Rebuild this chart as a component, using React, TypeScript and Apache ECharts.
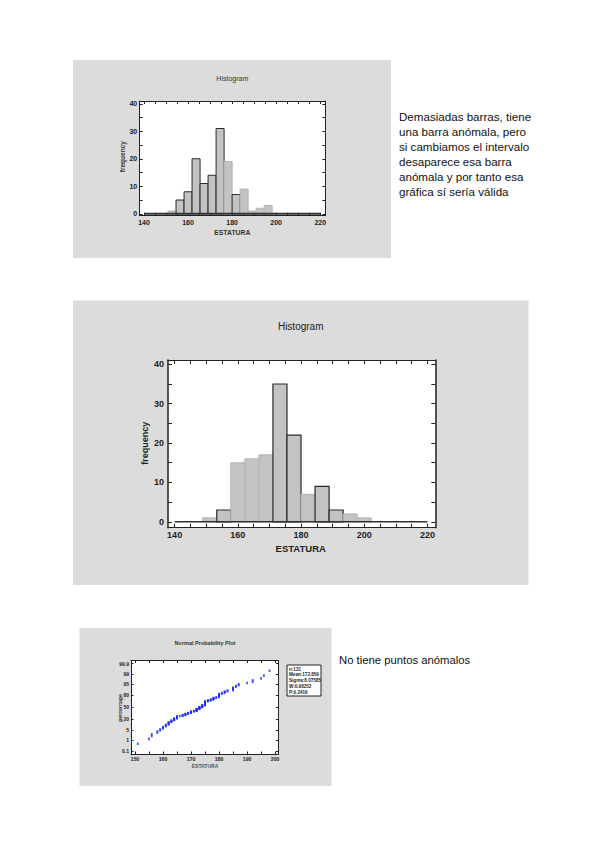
import React, { useEffect, useRef } from "react";
import * as echarts from "echarts";

// ---------- data ----------
const histStart = 140;
const histEnd = 220;
const hist1Counts = [0, 0, 0, 1, 5, 8, 20, 11, 14, 31, 19, 7, 9, 1, 2, 3, 0, 0, 0, 0, 0, 0];
const hist2Counts = [0, 0, 1, 3, 15, 16, 17, 35, 22, 7, 9, 3, 2, 1, 0, 0, 0, 0];
const histXLabels = [140, 160, 180, 200, 220];
const histXTicks = [140, 145, 150, 155, 160, 165, 170, 175, 180, 185, 190, 195, 200, 205, 210, 215, 220];
const histYLabels = [0, 10, 20, 30, 40];
const histYTicks = [0, 5, 10, 15, 20, 25, 30, 35, 40];
const probXLabels = [150, 160, 170, 180, 190, 200];
const probXTicks = [150, 155, 160, 165, 170, 175, 180, 185, 190, 195, 200];
const probPercents = [0.1, 1, 5, 20, 50, 80, 95, 99, 99.9];
const estatura = [
  151,
  155, 156, 156,
  158, 158, 159, 159, 160, 160, 160, 161, 161, 161,
  162, 162, 162, 162, 162,
  163, 163, 163, 163,
  164, 164, 164, 164, 164,
  165, 165, 165, 165, 165, 165,
  166,
  167, 167, 167,
  168, 168, 168, 168,
  169, 169, 169,
  170, 170, 170, 170, 170,
  171, 171,
  172, 172, 172, 172, 172, 172, 172,
  173, 173, 173, 173, 173, 173, 173,
  174, 174, 174, 174, 174, 174, 174,
  175, 175, 175, 175, 175, 175, 175, 175, 175, 175, 175, 175, 175, 175,
  176, 176, 176,
  177, 177, 177,
  178, 178, 178, 178, 178,
  179, 179,
  180, 180, 180, 180, 180, 180, 180, 180, 180,
  181, 181,
  182, 182, 182,
  183, 183,
  185, 185, 185, 185, 185,
  186, 186,
  187, 187,
  190,
  192, 192,
  195, 196,
  198,
];
const statsLines = ["n:131", "Mean:172.859", "Sigma:8.07585", "W:0.98252", "P:0.2416"];
const note1Lines = [
  "Demasiadas barras, tiene",
  "una barra anómala, pero",
  "si cambiamos el intervalo",
  "desaparece esa barra",
  "anómala y por tanto esa",
  "gráfica sí sería válida",
];
const note3 = "No tiene puntos anómalos";
const hist1Outlined = [4, 5, 6, 7, 8, 9, 11];
const hist2Outlined = [3, 7, 8, 10, 11];

// ---------- helpers ----------
const FONT = "'Liberation Sans', Arial, Helvetica, sans-serif";
const AX = "#222";

function probit(p: number): number {
  const a = [-3.969683028665376e1, 2.209460984245205e2, -2.759285104469687e2, 1.38357751867269e2, -3.066479806614716e1, 2.506628277459239];
  const b = [-5.447609879822406e1, 1.615858368580409e2, -1.556989798598866e2, 6.680131188771972e1, -1.328068155288572e1];
  const c = [-7.784894002430293e-3, -3.223964580411365e-1, -2.400758277161838, -2.549732539343734, 4.374664141464968, 2.938163982698783];
  const d = [7.784695709041462e-3, 3.224671290700398e-1, 2.445134137142996, 3.754408661907416];
  const plow = 0.02425;
  if (p < plow) {
    const q = Math.sqrt(-2 * Math.log(p));
    return (((((c[0] * q + c[1]) * q + c[2]) * q + c[3]) * q + c[4]) * q + c[5]) / ((((d[0] * q + d[1]) * q + d[2]) * q + d[3]) * q + 1);
  }
  if (p > 1 - plow) {
    const q = Math.sqrt(-2 * Math.log(1 - p));
    return -(((((c[0] * q + c[1]) * q + c[2]) * q + c[3]) * q + c[4]) * q + c[5]) / ((((d[0] * q + d[1]) * q + d[2]) * q + d[3]) * q + 1);
  }
  const q = p - 0.5;
  const r = q * q;
  return ((((((a[0] * r + a[1]) * r + a[2]) * r + a[3]) * r + a[4]) * r + a[5]) * q) / (((((b[0] * r + b[1]) * r + b[2]) * r + b[3]) * r + b[4]) * r + 1);
}

function mkX(grid: number, min: number, max: number, labels: number[], ticks: number[], fs: number, margin: number, tickLen: number, lw: number) {
  const base = {
    type: "value",
    gridIndex: grid,
    min,
    max,
    splitLine: { show: false },
    axisLine: { show: true, onZero: false, lineStyle: { color: AX, width: lw } },
  };
  return [
    {
      ...base,
      position: "bottom",
      axisTick: { show: true, inside: true, length: tickLen, customValues: ticks, lineStyle: { color: AX, width: 1 } },
      axisLabel: { show: true, customValues: labels, fontSize: fs, fontWeight: "bold", color: AX, margin, fontFamily: FONT },
    },
    {
      ...base,
      position: "top",
      axisTick: { show: true, inside: true, length: tickLen, customValues: ticks, lineStyle: { color: AX, width: 1 } },
      axisLabel: { show: false },
    },
  ];
}

function mkY(grid: number, min: number, max: number, labels: number[], ticks: number[], fs: number, margin: number, tickLen: number, lw: number, fmt?: (v: number) => string) {
  const base = {
    type: "value",
    gridIndex: grid,
    min,
    max,
    splitLine: { show: false },
    axisLine: { show: true, onZero: false, lineStyle: { color: AX, width: lw } },
  };
  return [
    {
      ...base,
      position: "left",
      axisTick: { show: true, inside: true, length: tickLen, customValues: ticks, lineStyle: { color: AX, width: 1 } },
      axisLabel: { show: true, customValues: labels, fontSize: fs, fontWeight: "bold", color: AX, margin, fontFamily: FONT, formatter: fmt },
    },
    {
      ...base,
      position: "right",
      axisTick: { show: true, inside: true, length: tickLen, customValues: ticks, lineStyle: { color: AX, width: 1 } },
      axisLabel: { show: false },
    },
  ];
}

function histData(counts: number[]) {
  const w = (histEnd - histStart) / counts.length;
  return counts.map((c, k) => [histStart + k * w, histStart + (k + 1) * w, c]);
}

function histSeries(counts: number[], axisIdx: number, outlined: number[], lw: number, zeroW: number) {
  return [
    {
      type: "custom",
      xAxisIndex: axisIdx,
      yAxisIndex: axisIdx,
      data: histData(counts),
      encode: { x: [0, 1], y: 2 },
      renderItem: (params: any, api: any) => {
        const c = api.value(2);
        if (!c) return null;
        const p0 = api.coord([api.value(0), c]);
        const p1 = api.coord([api.value(1), 0]);
        const dark = outlined.indexOf(params.dataIndex) >= 0;
        return {
          type: "rect",
          shape: { x: p0[0], y: p0[1], width: p1[0] - p0[0], height: p1[1] - p0[1] },
          style: { fill: "#c3c3c3", stroke: dark ? "#2a2a2a" : "#b5b5b5", lineWidth: dark ? lw : 1 },
        };
      },
      z: 2,
    },
    {
      type: "line",
      xAxisIndex: axisIdx,
      yAxisIndex: axisIdx,
      data: [[histStart, 0], [histEnd, 0]],
      symbol: "none",
      lineStyle: { color: "#333", width: zeroW },
      z: 3,
    },
  ];
}

function txt(x: number, y: number, s: string, fs: number, bold: boolean, color = "#222", rot = 0, align = "center") {
  return {
    type: "text",
    x,
    y,
    rotation: rot,
    style: { text: s, fontSize: fs, fontWeight: bold ? "bold" : "normal", fill: color, fontFamily: FONT, align, verticalAlign: "middle" },
    z: 10,
  };
}

export default function App() {
  const ref = useRef<HTMLDivElement>(null);
  useEffect(() => {
    if (!ref.current) return;
    const chart = echarts.init(ref.current, undefined, { renderer: "svg" });

    const g1 = { left: 139.7, top: 101, width: 185.6, height: 114.7 };
    const g2 = { left: 168, top: 360, width: 267.3, height: 167.7 };
    const g3 = { left: 131, top: 660.5, width: 147.5, height: 93.5 };

    const zTicks = probPercents.map((p) => probit(p / 100));
    const zFmt = (v: number) => {
      let best = 0;
      zTicks.forEach((z, i) => {
        if (Math.abs(z - v) < Math.abs(zTicks[best] - v)) best = i;
      });
      return String(probPercents[best]);
    };
    const n = estatura.length;
    const probData = estatura
      .slice()
      .sort((a, b) => a - b)
      .map((v, i) => [v, probit((i + 1 - 0.375) / (n + 0.25))]);

    const graphic: any[] = [
      { type: "rect", shape: { x: 73, y: 60, width: 318, height: 198 }, style: { fill: "#dcdcdc" }, z: -10 },
      { type: "rect", shape: { x: 73, y: 300.5, width: 455.5, height: 284.5 }, style: { fill: "#dcdcdc" }, z: -10 },
      { type: "rect", shape: { x: 79.5, y: 628, width: 252, height: 158 }, style: { fill: "#dcdcdc" }, z: -10 },
      { type: "rect", shape: { x: g1.left, y: g1.top, width: g1.width, height: g1.height }, style: { fill: "#fff" }, z: -9 },
      { type: "rect", shape: { x: g2.left, y: g2.top, width: g2.width, height: g2.height }, style: { fill: "#fff" }, z: -9 },
      { type: "rect", shape: { x: g3.left, y: g3.top, width: g3.width, height: g3.height }, style: { fill: "#fff" }, z: -9 },
      // chart 1 texts
      txt(232.3, 78.3, "Histogram", 7, false, "#333"),
      txt(232.3, 232.5, "ESTATURA", 6.8, true, "#333"),
      txt(122, 156.7, "frequency", 6.5, true, "#333", Math.PI / 2),
      // chart 2 texts
      txt(300.7, 326.7, "Histogram", 10, false, "#222"),
      txt(300.7, 548.3, "ESTATURA", 9.5, true, "#222"),
      txt(144.7, 443.3, "frequency", 9, true, "#222", Math.PI / 2),
      // chart 3 texts
      txt(205, 643, "Normal Probability Plot", 5.5, true, "#333"),
      txt(205, 765.5, "ESTATURA", 5, true, "#555"),
      txt(119.5, 708, "percentage", 5.2, true, "#333", Math.PI / 2),
      { type: "rect", shape: { x: 287, y: 665, width: 34, height: 31 }, style: { fill: "#fff", stroke: "#222", lineWidth: 1 }, z: 9 },
      ...statsLines.map((s, i) => txt(289, 669 + i * 5.8, s, 4.6, true, "#222", 0, "left")),
      // notes
      ...note1Lines.map((s, i) => txt(399, 116 + i * 15, s, 11.6, false, "#111", 0, "left")),
      txt(339, 660, note3, 11.3, false, "#111", 0, "left"),
    ];

    const option: any = {
      animation: false,
      backgroundColor: "#fff",
      grid: [
        { ...g1, containLabel: false },
        { ...g2, containLabel: false },
        { ...g3, containLabel: false },
      ],
      xAxis: [
        ...mkX(0, 138.05, 222.3, histXLabels, histXTicks, 7, 3.5, 3, 1),
        ...mkX(1, 137.9, 222.5, histXLabels, histXTicks, 9, 3, 4, 1.2),
        ...mkX(2, 148.6, 201.2, probXLabels, probXTicks, 5.2, 2.5, 2.5, 1),
      ],
      yAxis: [
        ...mkY(0, -0.7, 41, histYLabels, histYTicks, 7, 2.5, 3, 1),
        ...mkY(1, -1.5, 41.1, histYLabels, histYTicks, 9, 4, 4, 1.5),
        ...mkY(2, -3.32, 3.32, zTicks, zTicks, 5, 2, 2.5, 1, zFmt),
      ],
      series: [
        ...histSeries(hist1Counts, 0, hist1Outlined, 1, 2),
        ...histSeries(hist2Counts, 2, hist2Outlined, 1.2, 1.5),
        {
          type: "scatter",
          xAxisIndex: 4,
          yAxisIndex: 4,
          data: probData,
          symbol: "rect",
          symbolSize: [1.8, 2.6],
          itemStyle: { color: "#1f2ff0" },
          z: 3,
        },
      ],
      graphic: { elements: graphic },
    };
    chart.setOption(option);
    return () => chart.dispose();
  }, []);
  return <div ref={ref} style={{ position: "absolute", left: 0, top: 0, width: 600, height: 848 }} />;
}
